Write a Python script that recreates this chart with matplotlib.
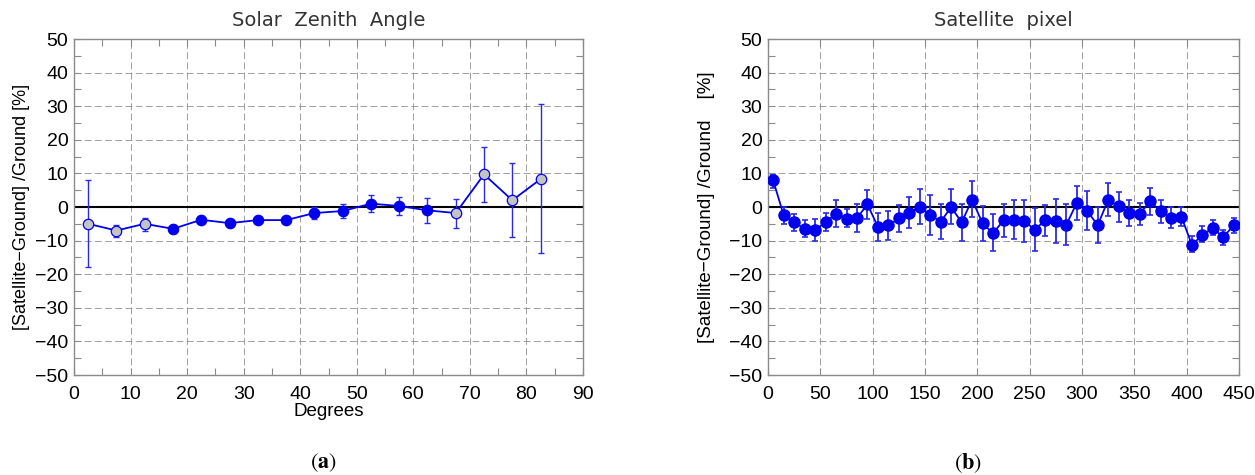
import numpy as np
import matplotlib
matplotlib.use('Agg')
import matplotlib.pyplot as plt
from matplotlib.ticker import MultipleLocator

plt.rcParams['font.family'] = ['Liberation Sans', 'DejaVu Sans']
plt.rcParams['mathtext.fontset'] = 'stix'

# ---- (a) solar zenith angle ----
sza_x = [2.5, 7.5, 12.5, 17.5, 22.5, 27.5, 32.5, 37.5, 42.5, 47.5,
         52.5, 57.5, 62.5, 67.5, 72.5, 77.5, 82.5]
sza_y = [-5.0, -7.0, -5.0, -6.5, -3.8, -4.8, -3.9, -3.9, -1.8, -1.2,
         1.0, 0.3, -1.0, -1.8, 9.7, 2.0, 8.3]
sza_lo = [-18.0, -9.0, -7.0, -7.8, -4.8, -5.6, -4.8, -4.8, -3.7, -3.3,
          -1.5, -2.3, -4.7, -6.2, 1.5, -8.8, -13.8]
sza_hi = [8.0, -5.3, -3.3, -5.4, -2.8, -4.0, -3.0, -3.0, 0.0, 1.0,
          3.7, 3.1, 2.8, 2.5, 18.0, 13.0, 30.7]
# True -> grey filled marker
sza_grey = [True, True, True, False, False, False, False, False, False, False,
            False, False, False, True, True, True, True]

# ---- (b) satellite pixel ----
pix_x = list(range(5, 450, 10))
pix_y = [7.9, -2.5, -4.6, -6.4, -6.9, -4.5, -2.0, -3.5, -3.3, 0.8,
         -5.9, -5.5, -3.4, -1.7, 0.0, -2.3, -4.4, 0.0, -4.6, 2.2,
         -4.9, -7.8, -4.0, -3.8, -4.2, -6.8, -3.8, -4.2, -5.3, 1.2,
         -1.2, -5.4, 2.1, 0.2, -1.7, -2.1, 1.7, -1.3, -3.2, -2.9,
         -11.3, -8.3, -6.3, -9.0, -5.4]
pix_lo = [5.7, -5.0, -7.0, -8.8, -10.0, -7.2, -6.0, -6.0, -7.3, -3.5,
          -10.0, -9.7, -7.3, -6.3, -5.0, -8.3, -9.5, -5.0, -10.0, -3.0,
          -10.0, -13.2, -9.0, -9.5, -10.3, -13.2, -8.5, -10.8, -11.2, -3.8,
          -6.7, -10.6, -2.7, -4.4, -5.6, -5.4, -2.4, -4.7, -6.3, -5.7,
          -13.5, -10.5, -8.3, -11.2, -7.6]
pix_hi = [9.5, 0.0, -2.0, -4.0, -3.7, -1.8, 2.2, -0.7, 1.0, 5.0,
          -1.7, -1.3, 0.6, 3.0, 5.3, 3.7, 0.8, 5.3, 1.0, 7.6,
          0.3, -2.2, 1.0, 2.0, 2.0, -0.3, 0.7, 2.4, 1.0, 6.2,
          4.8, 0.0, 7.0, 4.6, 2.2, 1.3, 5.8, 2.0, 0.0, 0.0,
          -8.6, -5.7, -4.0, -6.7, -3.2]

ylabel_a = '[Satellite\u2212Ground] /Ground [%]'
ylabel_b = '[Satellite\u2212Ground] /Ground    [%]'

BLUE = '#0000ee'
ERRC = '#2a2ae6'
GREY = '#c4c4c4'
SPINE = '#8a8a8a'

W, H = 1255, 475
fig = plt.figure(figsize=(W / 100, H / 100), dpi=100)


def style_axes(ax, xmax, xmajor, xminor):
    ax.set_xlim(0, xmax)
    ax.set_ylim(-50, 50)
    ax.xaxis.set_major_locator(MultipleLocator(xmajor))
    if xminor:
        ax.xaxis.set_minor_locator(MultipleLocator(xminor))
    ax.yaxis.set_major_locator(MultipleLocator(10))
    ax.yaxis.set_minor_locator(MultipleLocator(5))
    ax.grid(True, which='major', color='#808080', linestyle=(0, (7, 3.5)),
            linewidth=0.7, alpha=0.75)
    ax.set_axisbelow(True)
    ax.tick_params(which='both', direction='in', top=True, right=True,
                   color=SPINE, length=5, width=0.8, labelsize=14)
    ax.tick_params(axis='x', which='both', pad=8)
    ax.tick_params(axis='y', which='both', pad=4)
    for s in ax.spines.values():
        s.set_color(SPINE)
        s.set_linewidth(1.0)
    ax.axhline(0, color='black', linewidth=1.5, zorder=2)


# left panel
ax1 = fig.add_axes([74 / W, 100 / H, 509 / W, 336 / H])
style_axes(ax1, 90, 10, 5)
yerr_a = [np.array(sza_y) - np.array(sza_lo), np.array(sza_hi) - np.array(sza_y)]
ax1.plot(sza_x, sza_y, color=BLUE, linewidth=1.3, zorder=3)
ax1.errorbar(sza_x, sza_y, yerr=yerr_a, fmt='none', ecolor=ERRC,
             elinewidth=1.0, capsize=2, capthick=1.0, zorder=3)
for xv, yv, g in zip(sza_x, sza_y, sza_grey):
    ax1.plot(xv, yv, 'o', markersize=7.5, markerfacecolor=GREY if g else BLUE,
             markeredgecolor=BLUE, markeredgewidth=0.9, zorder=4)
ax1.set_title('Solar  Zenith  Angle', fontsize=14, color='#333333',
              family='DejaVu Sans', pad=9)
ax1.set_xlabel('Degrees', fontsize=13.5, labelpad=0)
ax1.set_ylabel(ylabel_a, fontsize=13, labelpad=4)

# right panel
ax2 = fig.add_axes([768 / W, 100 / H, 471 / W, 336 / H])
style_axes(ax2, 450, 50, None)
yerr_b = [np.array(pix_y) - np.array(pix_lo), np.array(pix_hi) - np.array(pix_y)]
ax2.errorbar(pix_x, pix_y, yerr=yerr_b, fmt='o-', color=BLUE, ecolor=ERRC,
             linewidth=1.3, markersize=8, elinewidth=1.3, capsize=2,
             capthick=1.2, zorder=3)
ax2.set_title('Satellite  pixel', fontsize=14, color='#333333',
              family='DejaVu Sans', pad=9)
ax2.set_ylabel(ylabel_b, fontsize=13.5, labelpad=10)

# subfigure captions
fig.text(323 / W, 1 - 463 / H, r'$\mathrm{(}\mathbf{a}\mathrm{)}$',
         ha='center', va='center', fontsize=16)
fig.text(968 / W, 1 - 463 / H, r'$\mathrm{(}\mathbf{b}\mathrm{)}$',
         ha='center', va='center', fontsize=16)

fig.savefig('out.png', dpi=100)
